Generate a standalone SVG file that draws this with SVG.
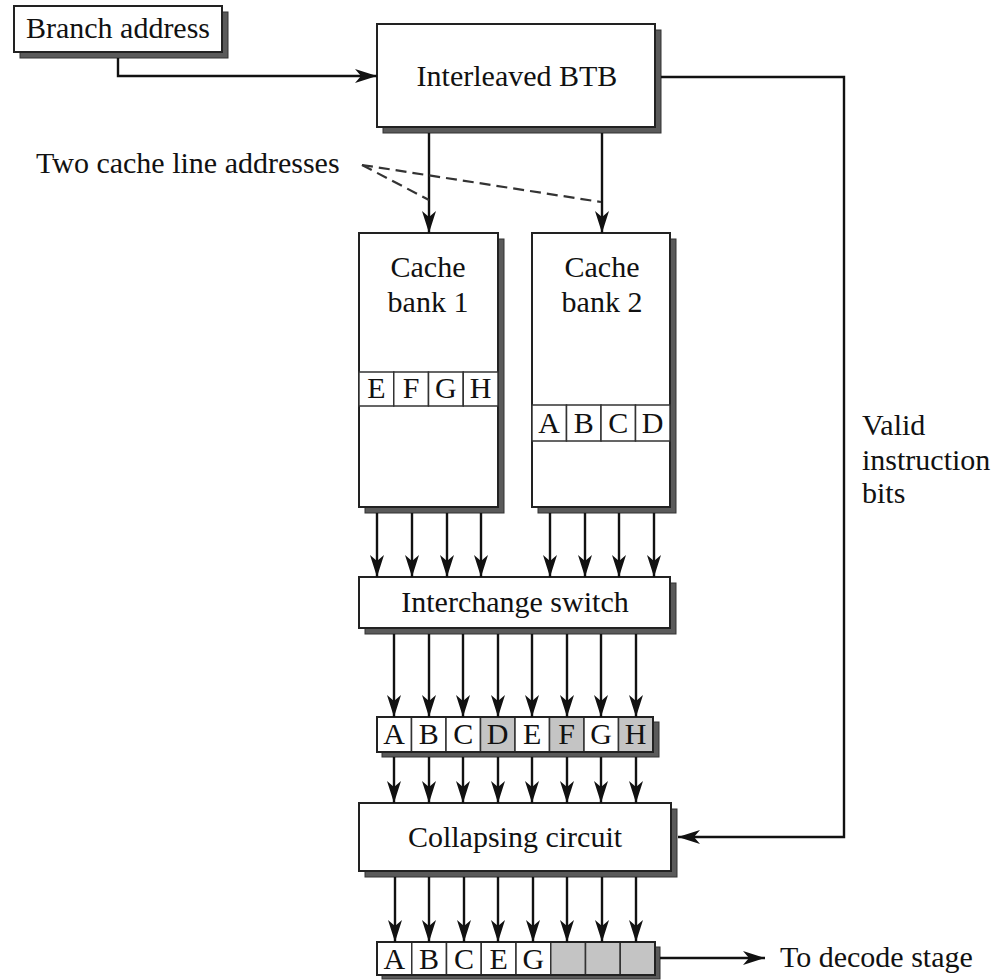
<svg xmlns="http://www.w3.org/2000/svg" width="997" height="980" viewBox="0 0 997 980">
<style>
  text { font-family: "Liberation Serif", "Times New Roman", serif; font-size: 30px; fill: #111; }
  .c { text-anchor: middle; }
  .box { fill: #fff; stroke: #222; stroke-width: 2; }
  .shadow { fill: #5a5a5a; stroke: #333; stroke-width: 1; }
  .cell { fill: #fff; stroke: #333; stroke-width: 1.5; }
  .gray { fill: #c4c4c4; stroke: #333; stroke-width: 1.5; }
  .ln { fill: none; stroke: #111; stroke-width: 2.4; }
  .dash { fill: none; stroke: #333; stroke-width: 2.2; stroke-dasharray: 11 6; }
</style>
<defs>
  <marker id="arr" markerUnits="userSpaceOnUse" viewBox="0 0 22 14" refX="22" refY="7" markerWidth="22" markerHeight="14" orient="auto">
    <path d="M0,0 L22,7 L0,14 L6,7 Z" fill="#111"/>
  </marker>
</defs>
<rect width="997" height="980" fill="#fff"/>

<g id="branch-address">
  <rect class="shadow" x="20" y="12" width="208" height="46"/>
  <rect class="box" x="14" y="6" width="208" height="46"/>
  <text class="c" x="118" y="38">Branch address</text>
</g>

<g id="btb">
  <rect class="shadow" x="383" y="30" width="278" height="103"/>
  <rect class="box" x="377" y="24" width="278" height="103"/>
  <text class="c" x="517" y="86">Interleaved BTB</text>
</g>

<g id="two-cache-line-label">
  <text x="36" y="173">Two cache line addresses</text>
</g>

<g id="cache-bank-1">
  <rect class="shadow" x="365" y="239" width="139" height="274"/>
  <rect class="box" x="359" y="233" width="139" height="274"/>
  <text class="c" x="428" y="277">Cache</text>
  <text class="c" x="428" y="312">bank 1</text>
  <rect class="cell" x="359" y="372" width="34.75" height="34"/>
  <rect class="cell" x="393.75" y="372" width="34.75" height="34"/>
  <rect class="cell" x="428.5" y="372" width="34.75" height="34"/>
  <rect class="cell" x="463.25" y="372" width="34.75" height="34"/>
  <text class="c" x="376.4" y="398">E</text>
  <text class="c" x="411.1" y="398">F</text>
  <text class="c" x="445.9" y="398">G</text>
  <text class="c" x="480.6" y="398">H</text>
</g>

<g id="cache-bank-2">
  <rect class="shadow" x="538" y="239" width="138" height="274"/>
  <rect class="box" x="532" y="233" width="138" height="274"/>
  <text class="c" x="602" y="277">Cache</text>
  <text class="c" x="602" y="312">bank 2</text>
  <rect class="cell" x="532" y="405" width="34.5" height="36"/>
  <rect class="cell" x="566.5" y="405" width="34.5" height="36"/>
  <rect class="cell" x="601" y="405" width="34.5" height="36"/>
  <rect class="cell" x="635.5" y="405" width="34.5" height="36"/>
  <text class="c" x="549.2" y="433">A</text>
  <text class="c" x="583.7" y="433">B</text>
  <text class="c" x="618.2" y="433">C</text>
  <text class="c" x="652.7" y="433">D</text>
</g>

<g id="interchange-switch">
  <rect class="shadow" x="365" y="583" width="311" height="51"/>
  <rect class="box" x="359" y="577" width="311" height="51"/>
  <text class="c" x="515" y="612">Interchange switch</text>
</g>

<g id="row-abcdefgh">
  <rect class="shadow" x="382" y="722" width="277" height="35"/>
  <rect class="cell" x="377" y="717" width="34.5" height="35"/>
  <rect class="cell" x="411.5" y="717" width="34.5" height="35"/>
  <rect class="cell" x="446" y="717" width="34.5" height="35"/>
  <rect class="gray" x="480.5" y="717" width="34.5" height="35"/>
  <rect class="cell" x="515" y="717" width="34.5" height="35"/>
  <rect class="gray" x="549.5" y="717" width="34.5" height="35"/>
  <rect class="cell" x="584" y="717" width="34.5" height="35"/>
  <rect class="gray" x="618.5" y="717" width="34.5" height="35"/>
  <rect x="377" y="717" width="276" height="35" fill="none" stroke="#222" stroke-width="2"/>
  <text class="c" x="394.2" y="744">A</text>
  <text class="c" x="428.7" y="744">B</text>
  <text class="c" x="463.2" y="744">C</text>
  <text class="c" x="497.7" y="744">D</text>
  <text class="c" x="532.2" y="744">E</text>
  <text class="c" x="566.7" y="744">F</text>
  <text class="c" x="601.2" y="744">G</text>
  <text class="c" x="635.7" y="744">H</text>
</g>

<g id="collapsing-circuit">
  <rect class="shadow" x="365" y="809" width="312" height="68"/>
  <rect class="box" x="359" y="803" width="312" height="68"/>
  <text class="c" x="515" y="847">Collapsing circuit</text>
</g>

<g id="row-output">
  <rect class="shadow" x="382" y="947" width="278" height="32"/>
  <rect class="cell" x="377" y="942" width="34.75" height="33"/>
  <rect class="cell" x="411.75" y="942" width="34.75" height="33"/>
  <rect class="cell" x="446.5" y="942" width="34.75" height="33"/>
  <rect class="cell" x="481.25" y="942" width="34.75" height="33"/>
  <rect class="cell" x="516" y="942" width="34.75" height="33"/>
  <rect class="gray" x="550.75" y="942" width="34.75" height="33"/>
  <rect class="gray" x="585.5" y="942" width="34.75" height="33"/>
  <rect class="gray" x="620.25" y="942" width="34.75" height="33"/>
  <rect x="377" y="942" width="278" height="33" fill="none" stroke="#222" stroke-width="2"/>
  <text class="c" x="394.4" y="969">A</text>
  <text class="c" x="429.1" y="969">B</text>
  <text class="c" x="463.9" y="969">C</text>
  <text class="c" x="498.6" y="969">E</text>
  <text class="c" x="533.4" y="969">G</text>
</g>

<g id="valid-label">
  <text x="862" y="435">Valid</text>
  <text x="862" y="470">instruction</text>
  <text x="862" y="503">bits</text>
</g>

<g id="decode-label">
  <text x="780" y="967">To decode stage</text>
</g>

<g id="connectors">
  <path class="ln" d="M118,58 V76 H377" marker-end="url(#arr)"/>
  <path class="ln" d="M661,77 H844 V837 H678" marker-end="url(#arr)"/>
  <path class="ln" d="M429,133 V233" marker-end="url(#arr)"/>
  <path class="ln" d="M602,133 V233" marker-end="url(#arr)"/>
  <path class="dash" d="M362,165 L429,200"/>
  <path class="dash" d="M362,165 L601,202"/>
  <path class="ln" d="M377,513 V577" marker-end="url(#arr)"/>
  <path class="ln" d="M412,513 V577" marker-end="url(#arr)"/>
  <path class="ln" d="M447,513 V577" marker-end="url(#arr)"/>
  <path class="ln" d="M481,513 V577" marker-end="url(#arr)"/>
  <path class="ln" d="M550,513 V577" marker-end="url(#arr)"/>
  <path class="ln" d="M585,513 V577" marker-end="url(#arr)"/>
  <path class="ln" d="M619,513 V577" marker-end="url(#arr)"/>
  <path class="ln" d="M654,513 V577" marker-end="url(#arr)"/>
  <path class="ln" d="M394,634 V717" marker-end="url(#arr)"/>
  <path class="ln" d="M429,634 V717" marker-end="url(#arr)"/>
  <path class="ln" d="M463,634 V717" marker-end="url(#arr)"/>
  <path class="ln" d="M498,634 V717" marker-end="url(#arr)"/>
  <path class="ln" d="M532,634 V717" marker-end="url(#arr)"/>
  <path class="ln" d="M567,634 V717" marker-end="url(#arr)"/>
  <path class="ln" d="M601,634 V717" marker-end="url(#arr)"/>
  <path class="ln" d="M636,634 V717" marker-end="url(#arr)"/>
  <path class="ln" d="M394,757 V803" marker-end="url(#arr)"/>
  <path class="ln" d="M429,757 V803" marker-end="url(#arr)"/>
  <path class="ln" d="M463,757 V803" marker-end="url(#arr)"/>
  <path class="ln" d="M498,757 V803" marker-end="url(#arr)"/>
  <path class="ln" d="M532,757 V803" marker-end="url(#arr)"/>
  <path class="ln" d="M567,757 V803" marker-end="url(#arr)"/>
  <path class="ln" d="M601,757 V803" marker-end="url(#arr)"/>
  <path class="ln" d="M636,757 V803" marker-end="url(#arr)"/>
  <path class="ln" d="M395,877 V942" marker-end="url(#arr)"/>
  <path class="ln" d="M429,877 V942" marker-end="url(#arr)"/>
  <path class="ln" d="M464,877 V942" marker-end="url(#arr)"/>
  <path class="ln" d="M498,877 V942" marker-end="url(#arr)"/>
  <path class="ln" d="M533,877 V942" marker-end="url(#arr)"/>
  <path class="ln" d="M567,877 V942" marker-end="url(#arr)"/>
  <path class="ln" d="M602,877 V942" marker-end="url(#arr)"/>
  <path class="ln" d="M636,877 V942" marker-end="url(#arr)"/>
  <path class="ln" d="M660,958 H765" marker-end="url(#arr)"/>
</g>
</svg>
